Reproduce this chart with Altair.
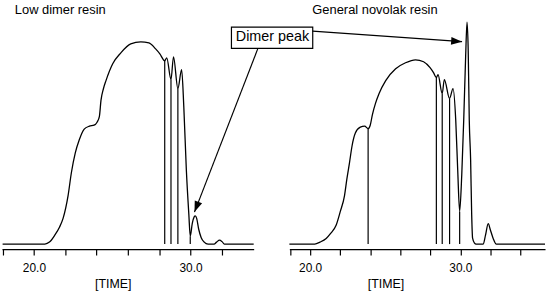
import altair as alt
import pandas as pd

# ---------------- data ----------------
# Left panel: Low dimer resin (retention time, detector signal)
left_time = [18.0, 20.70, 20.99, 21.33, 21.63, 21.86, 22.18, 22.39, 22.64, 22.89,
             23.21, 23.54, 23.84, 24.03, 24.18, 24.28, 24.44, 24.60, 25.03, 25.55,
             26.18, 26.82, 27.34, 27.77, 28.04, 28.35, 28.48, 28.75, 28.91, 29.19,
             29.43, 29.57, 29.73, 29.89, 29.98, 30.11, 30.23, 30.30, 30.39, 30.52,
             30.68, 30.87, 31.12, 31.50, 31.66, 31.85, 32.01, 32.16, 34.03]
left_signal = [0, 0, 2, 9, 17, 26, 49, 72, 92, 105,
               116, 119, 120, 123, 129, 145, 157, 165, 182, 193,
               202, 204, 203, 197, 192, 185, 188, 166, 189, 157,
               176, 138, 75, 30, 8, 21, 27.5, 28.5, 26, 15,
               6.5, 2, 0, 0, 2, 4, 2.5, 0, 0]
left_drop_time = [28.35, 28.75, 29.19, 29.98]
left_drop_signal = [185, 166, 157, 8]

# Right panel: General novolak resin
right_time = [18.62, 20.31, 20.66, 21.07, 21.38, 21.73, 22.01, 22.29, 22.44, 22.62,
              22.79, 23.01, 23.34, 23.63, 23.86, 24.00, 24.15, 24.35, 24.59, 25.03,
              25.69, 26.35, 27.01, 27.55, 27.98, 28.21, 28.40, 28.51, 28.79, 28.93,
              29.28, 29.51, 29.69, 29.82, 29.95, 30.09, 30.22, 30.35, 30.44, 30.52,
              30.59, 30.68, 30.75, 30.81, 30.94, 31.04, 31.52, 31.67, 31.85, 32.00,
              32.18, 32.39, 35.63]
right_signal = [0, 0, 2, 5.7, 11, 19, 33, 49, 65, 82,
                99, 112, 118, 119, 116.5, 120, 131, 142, 152, 165,
                177, 183, 186, 184, 178, 173, 168, 171, 152, 166,
                147, 157, 125, 75, 33, 70, 125, 190, 224, 195,
                125, 85, 30, 6, 1, 0, 0, 9, 20.7, 14,
                5.7, 0, 0]
right_drop_time = [23.86, 28.40, 28.79, 29.28, 29.95]
right_drop_signal = [116.5, 168, 152, 147, 33]

panel_titles = ["Low dimer resin", "General novolak resin"]
title_time = [18.78, 20.15]
title_signal = [232, 232]

tick_values_left = [18, 20, 22, 24, 26, 28, 30, 32]
tick_values_right = [18.66, 20, 22, 24, 26, 28, 30, 32, 34]

annotation_label = "Dimer peak"
box_time = [32.61, 37.80]
box_signal = [197.5, 219.0]
label_time = [35.23]
label_signal = [204.5]
left_arrow_time = [34.30, 30.25]
left_arrow_signal = [197.5, 32.3]
right_arrow_time = [20.16, 30.11]
right_arrow_signal = [215.0, 204.3]

# ---------------- chart ----------------
FONT = "Liberation Sans"
ARROW = "M0,0L0.36,1L-0.36,1Z"
LABEL_EXPR = "datum.value == 20 ? '20.0' : (datum.value == 30 ? '30.0' : '')"


def x_enc(domain, ticks, title_x):
    return alt.X(
        "t:Q",
        scale=alt.Scale(domain=domain, nice=False, zero=False),
        axis=alt.Axis(
            values=ticks, labelExpr=LABEL_EXPR, grid=False,
            labelFlush=False, labelOverlap=False,
            labelFont=FONT, labelFontSize=12, labelColor="black",
            labelBaseline="alphabetic", labelPadding=17,
            tickSize=6, tickWidth=1.2, tickColor="black",
            domainWidth=1.3, domainColor="black",
            title="[TIME]", titleFont=FONT, titleFontSize=12.5,
            titleFontWeight="normal", titleColor="black",
            titleX=title_x, titleY=38.5, titleAlign="center",
            titleBaseline="alphabetic",
        ),
    )


y_enc = alt.Y("s:Q", scale=alt.Scale(domain=[-5, 245], nice=False, zero=False), axis=None)


def base_layers(times, sig, dt, ds, X, title_text, tt, ts):
    curve = alt.Chart(pd.DataFrame({"t": times, "s": sig})).mark_line(
        color="black", strokeWidth=1.3, interpolate="monotone"
    ).encode(x=X, y=y_enc)
    drops = alt.Chart(pd.DataFrame({"t": dt, "s": ds})).mark_rule(
        color="black", strokeWidth=1.2
    ).encode(x=X, y=y_enc, y2=alt.datum(0))
    title = alt.Chart(pd.DataFrame({"t": [tt], "s": [ts], "label": [title_text]})).mark_text(
        align="left", baseline="alphabetic", font=FONT, fontSize=13, color="black"
    ).encode(x=X, y=y_enc, text="label:N")
    return [curve, drops, title]


def arrow(times, sig, X, angle):
    line = alt.Chart(pd.DataFrame({"t": [times[0]], "s": [sig[0]], "t2": [times[1]], "s2": [sig[1]]})).mark_rule(
        color="black", strokeWidth=1.2
    ).encode(x=X, y=y_enc, x2="t2:Q", y2="s2:Q")
    head = alt.Chart(pd.DataFrame({"t": [times[1]], "s": [sig[1]]})).mark_point(
        shape=ARROW, filled=True, size=484, color="black", opacity=1, angle=angle
    ).encode(x=X, y=y_enc)
    return [line, head]


XL = x_enc([17.96, 34.03], tick_values_left, 111.7)
XR = x_enc([18.62, 35.63], tick_values_right, 97)

box = alt.Chart(pd.DataFrame({"t": [box_time[0]], "t2": [box_time[1]],
                              "s": [box_signal[0]], "s2": [box_signal[1]]})).mark_rect(
    fill="white", stroke="black", strokeWidth=1.2
).encode(x=XL, x2="t2:Q", y=y_enc, y2="s2:Q")
box_text = alt.Chart(pd.DataFrame({"t": label_time, "s": label_signal,
                                   "label": [annotation_label]})).mark_text(
    align="center", baseline="alphabetic", font=FONT, fontSize=14.5, color="black"
).encode(x=XL, y=y_enc, text="label:N")

left_layers = base_layers(left_time, left_signal, left_drop_time, left_drop_signal, XL,
                          panel_titles[0], title_time[0], title_signal[0])
left_layers += arrow(left_arrow_time, left_arrow_signal, XL, 201.2)
left_layers += [box, box_text]

right_layers = base_layers(right_time, right_signal, right_drop_time, right_drop_signal, XR,
                           panel_titles[1], title_time[1], title_signal[1])
right_layers += arrow(right_arrow_time, right_arrow_signal, XR, 94.1)

left = alt.layer(*left_layers).properties(width=254, height=250)
right = alt.layer(*right_layers).properties(width=258, height=250)

chart = alt.hconcat(left, right, spacing=36, bounds="flush").properties(
    padding=0, background="white"
).configure_view(stroke=None)

chart.save("out.html", embed_options={"renderer": "svg", "actions": False})
